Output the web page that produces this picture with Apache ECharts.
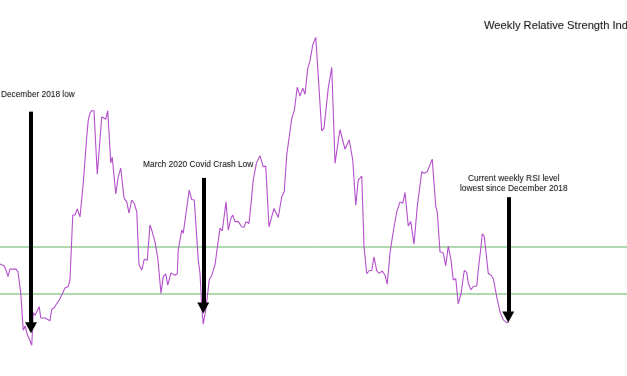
<!DOCTYPE html>
<html>
<head>
<meta charset="utf-8">
<script src="https://cdn.jsdelivr.net/npm/echarts@6/dist/echarts.min.js"></script>
<style>
html,body{margin:0;padding:0;background:#fff;}
#c{width:627px;height:376px;}
</style>
</head>
<body>
<div id="c"></div>
<script>
// week index (from start of the plotted window)
var weeks = [0,1.6,2.4,3.2,4,6.4,7.2,8.3,9.3,10.1,10.7,11.6,12.7,13.3,14,14.7,15.7,16.3,18,18.7,
20,20.7,21.6,22.4,23.7,25.1,26,27.3,28,29.1,30,30.9,32,33.3,34.7,35.3,36,36.7,37.6,38.9,
40.7,41.3,42.3,43.1,44.3,44.9,46.3,47.3,48.3,49.6,50.7,51.6,52.7,53.7,54.7,55.6,56.7,57.7,58.9,60,
60.7,62,63.1,64.4,65.3,66.3,67.1,68.4,70,70.9,71.3,72.7,73.3,74.3,75.7,76.7,77.7,79.3,80,80.7,
81.3,82.4,83.7,84.7,86,86.7,88,88.9,90.4,91.3,92.4,93.1,94,95.3,96.7,97.6,98.4,99.6,100.3,101.3,
102.6,104,105.3,106.3,107.6,108.4,109.6,111.3,112.7,113.7,114.7,116.7,117.7,118.9,120,121.1,122,123.1,124,125.1,
126.3,128.7,129.6,131.3,132.7,134,136,138,139.7,141.1,142.3,143.3,144.7,145.6,146.7,147.7,148.7,149.6,150.7,151.7,
152.9,154,154.9,156,157.3,158.7,160,161.1,162,163.3,164.3,165.6,166.9,168.7,169.6,170.9,172.9,174.3,174.9,176,
176.7,177.3,178.3,179.3,180.4,181.3,182.3,183.3,184.4,185.7,186.7,187.3,188.4,189.3,190,190.7,191.3,192.4,192.9,193.7,
195.3,196.4,197.3,198.7,200,201.3,202.7,203.6];
// weekly RSI values
var rsi = [46.4,46.0,45.1,43.7,45.3,45.3,44.7,40.2,32.3,33.2,
31.7,30.6,29.1,36.0,35.5,36.2,37.3,34.9,34.9,34.5,
34.3,36.8,37.0,37.7,38.7,40.2,41.3,41.6,43.0,56.8,
56.8,58.1,56.4,63.6,73.5,77.0,78.5,79.0,79.0,65.5,
77.7,77.4,77.2,79.0,67.9,69.1,61.3,64.9,66.8,60.4,
59.6,57.2,60.0,59.3,57.5,46.2,45.1,47.4,47.2,54.7,
53.6,51.1,47.7,40.1,43.7,44.3,41.9,44.5,44.0,44.3,
49.4,53.6,52.9,56.8,62.1,60.1,60.0,47.2,44.4,37.3,
33.6,37.0,43.0,44.0,46.2,49.0,54.0,53.4,59.6,53.6,
56.1,56.8,55.4,55.4,54.3,54.2,55.4,55.0,58.6,64.3,
67.9,69.4,67.1,67.2,54.3,54.7,58.2,56.3,60.7,61.8,
69.6,77.4,79.0,84.0,82.1,83.8,82.5,88.0,89.6,93.0,
94.6,74.7,75.3,83.8,88.2,67.8,75.0,70.8,72.8,68.5,
58.9,64.3,65.1,50.1,44.3,45.0,45.0,47.9,44.9,44.4,
44.9,44.0,42.1,48.7,53.3,57.5,59.6,59.3,61.6,54.5,
55.4,50.6,58.6,66.0,65.7,66.0,68.7,58.6,57.5,49.0,
49.4,48.7,46.0,50.2,47.2,43.0,43.3,37.9,40.0,45.0,
44.6,42.3,40.9,41.6,41.3,41.7,45.1,50.1,52.8,52.3,
44.4,44.0,43.3,39.4,36.2,34.5,33.9,34.1];
// horizontal reference levels
var levels = [50, 40];
// arrow annotations: week, start value, end value
var arrowWeeks = [12.4, 81.3, 203.3];
var arrowFrom = [78.8, 64.7, 60.6];
var arrowTo = [32.8, 37.0, 35.1];
var titleText = 'Weekly Relative Strength Index';
var noteTexts = ['December 2018 low', 'March 2020 Covid Crash Low', 'Current weekly RSI level\nlowest since December 2018'];

var X_MIN = 0, X_MAX = 250.8;
var chart = echarts.init(document.getElementById('c'), null, {renderer: 'canvas'});
var lineData = weeks.map(function (w, i) { return [w, rsi[i]]; });
var FONT = '"Liberation Sans", Arial, Helvetica, sans-serif';
var GREEN = '#5fb35f';

var arrowLines = arrowWeeks.map(function (w, i) {
  return [{coord: [w, arrowFrom[i]]}, {coord: [w, arrowTo[i]]}];
});

var textStyleBase = {fill: '#1e1e1e', textShadowColor: 'rgba(0,0,0,0.25)', textShadowBlur: 1.5};
function txt(o) { var s = {}; for (var k in textStyleBase) s[k] = textStyleBase[k]; for (var k2 in o) s[k2] = o[k2]; return s; }

var levelSeries = levels.map(function (v) {
  return {
    type: 'line',
    data: [[X_MIN, v], [X_MAX, v]],
    showSymbol: false,
    symbol: 'none',
    silent: true,
    z: 1,
    lineStyle: {color: GREEN, width: 1, type: 'solid'}
  };
});

var opt = {
  backgroundColor: '#ffffff',
  animation: false,
  grid: {left: 0, right: 0, top: 12, bottom: 11.5, containLabel: false},
  xAxis: {type: 'value', min: X_MIN, max: X_MAX, show: false},
  yAxis: {type: 'value', min: 25, max: 100, show: false},
  series: levelSeries.concat([
    {
      type: 'line',
      data: lineData,
      showSymbol: false,
      symbol: 'none',
      lineStyle: {color: '#b450cc', width: 1.1},
      z: 3
    },
    {
      type: 'line',
      data: [],
      z: 5,
      markLine: {
        silent: true,
        symbol: ['none', 'triangle'],
        symbolSize: [12, 11],
        label: {show: false},
        emphasis: {disabled: true},
        lineStyle: {color: '#000000', width: 4, type: 'solid'},
        itemStyle: {color: '#000000'},
        data: arrowLines
      }
    }
  ]),
  graphic: [
    {type: 'text', left: 484, top: 20, z: 10,
     style: txt({text: titleText, font: '11.2px ' + FONT})},
    {type: 'text', left: 1, top: 91, z: 10,
     style: txt({text: noteTexts[0], font: '8.3px ' + FONT})},
    {type: 'text', left: 143, top: 161, z: 10,
     style: txt({text: noteTexts[1], font: '8.4px ' + FONT})},
    {type: 'text', left: 460, top: 174, z: 10,
     style: txt({text: noteTexts[2], font: '8.4px ' + FONT, align: 'center', textAlign: 'center', lineHeight: 10})}
  ]
};
chart.setOption(opt);
</script>
</body>
</html>
